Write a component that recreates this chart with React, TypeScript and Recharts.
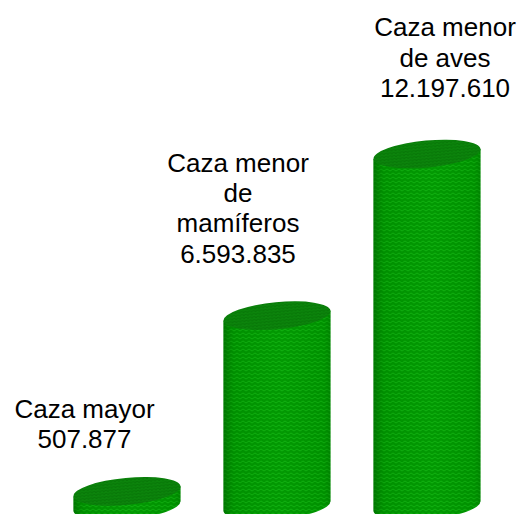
import React from 'react';
import { BarChart, Bar, XAxis, YAxis, LabelList } from 'recharts';

const categories = ['Caza mayor', 'Caza menor de mamíferos', 'Caza menor de aves'];
const values = [507877, 6593835, 12197610];
const labelLines = [
  ['Caza mayor', '507.877'],
  ['Caza menor', 'de', 'mamíferos', '6.593.835'],
  ['Caza menor', 'de aves', '12.197.610'],
];

// label block placement relative to the top of each cylinder
const labelDx = [-42.5, -39, 18];
const labelGap = [43, 53, 57];
const LINE_H = 30.4;

const TILT = 5.4;
const ELLIPSE_B = 13.5;

const data = categories.map((name, i) => ({ name, value: values[i] }));

const Cylinder = (props: any) => {
  const { x, y, width, height } = props;
  const cx = x + width / 2;
  const rad = (TILT * Math.PI) / 180;
  const a = width / 2 / Math.cos(rad);
  const dy = (width / 2) * Math.tan(rad);
  const bottom = y + height;
  const side = `M${x},${y + dy} L${x},${bottom + dy} A${a},${ELLIPSE_B} ${-TILT} 0 0 ${x + width},${bottom - dy} L${x + width},${y - dy} Z`;
  const rot = `rotate(${-TILT} ${cx} ${y})`;
  return (
    <g>
      <path d={side} fill="url(#sideTexture)" />
      <path d={side} fill="url(#sideShade)" />
      <ellipse cx={cx} cy={y} rx={a} ry={ELLIPSE_B} transform={rot} fill="url(#topTexture)" />
    </g>
  );
};

const BarLabel = (props: any) => {
  const { x, y, width, index } = props;
  const lines = labelLines[index];
  const cx = x + width / 2 + labelDx[index];
  const last = y - labelGap[index];
  return (
    <text textAnchor="middle" fontFamily="'Liberation Sans', Arial, sans-serif" fontSize={26} fill="#000000">
      {lines.map((line, i) => (
        <tspan key={i} x={cx} y={last - (lines.length - 1 - i) * LINE_H}>{line}</tspan>
      ))}
    </text>
  );
};

export default function App() {
  return (
    <div style={{ position: 'absolute', left: 0, top: 0, width: 522, height: 514, overflow: 'hidden', background: '#fff' }}>
      <BarChart
        width={522}
        height={514}
        data={data}
        barSize={107}
        margin={{ top: 102, right: 20.5, bottom: 8, left: 51.5 }}
      >
        <defs>
          <pattern id="sideTexture" width="6" height="4" patternUnits="userSpaceOnUse">
            <rect width="6" height="4" fill="#009400" />
            <polyline points="0,3 3,1 6,3" fill="none" stroke="#10b010" strokeWidth="1" />
          </pattern>
          <pattern id="topTexture" width="4" height="3" patternUnits="userSpaceOnUse">
            <rect width="4" height="3" fill="#087808" />
            <polyline points="0,2.5 2,0.5 4,2.5" fill="none" stroke="#129412" strokeWidth="0.9" />
          </pattern>
          <linearGradient id="sideShade" x1="0" y1="0" x2="1" y2="0">
            <stop offset="0" stopColor="#006000" stopOpacity={0.6} />
            <stop offset="0.1" stopColor="#007000" stopOpacity={0.12} />
            <stop offset="0.55" stopColor="#20d020" stopOpacity={0.08} />
            <stop offset="0.94" stopColor="#007000" stopOpacity={0.1} />
            <stop offset="1" stopColor="#006000" stopOpacity={0.35} />
          </linearGradient>
        </defs>
        <XAxis dataKey="name" hide />
        <YAxis hide domain={[0, 14000000]} />
        <Bar dataKey="value" shape={Cylinder} isAnimationActive={false}>
          <LabelList dataKey="value" content={BarLabel} />
        </Bar>
      </BarChart>
    </div>
  );
}
